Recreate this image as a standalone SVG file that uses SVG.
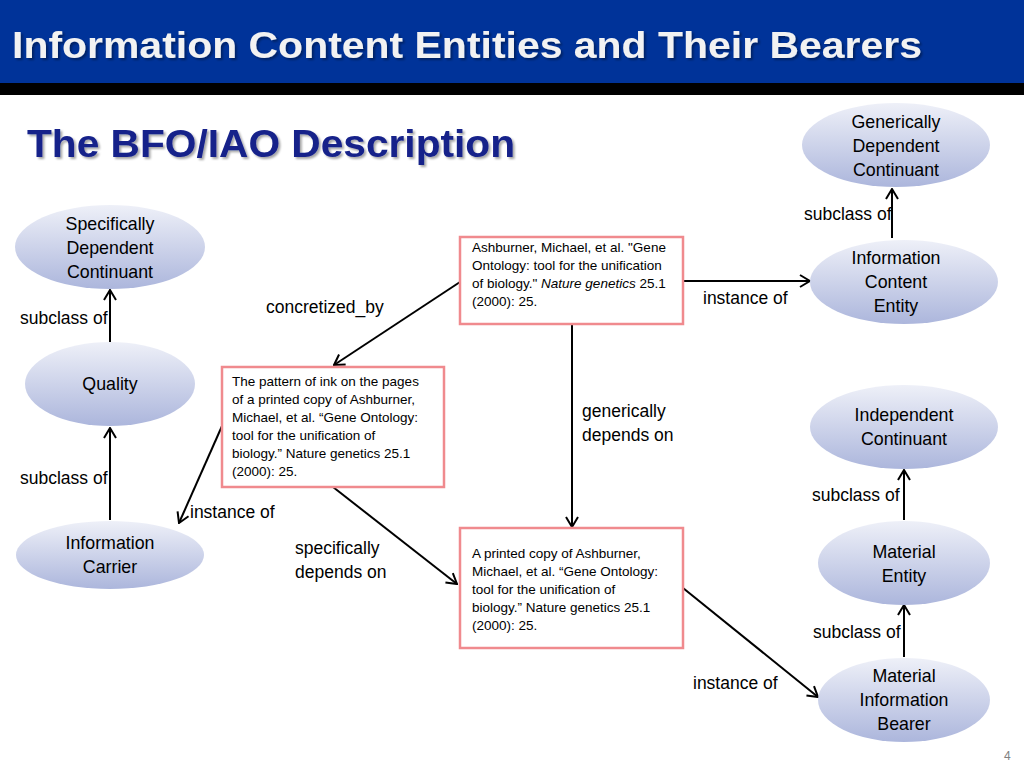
<svg xmlns="http://www.w3.org/2000/svg" width="1024" height="768" viewBox="0 0 1024 768">
<style>
.lbl{font-family:"Liberation Sans",Arial,sans-serif;font-size:17.5px;fill:#000}
.nt{font-family:"Liberation Sans",Arial,sans-serif;font-size:17.8px;fill:#000;text-anchor:middle}
.bt{font-family:"Liberation Sans",Arial,sans-serif;font-size:13.5px;fill:#000}
.ell{fill:url(#eg)}
.box{fill:#fff;stroke:#f08a8e;stroke-width:2.5}
.con{stroke:#000;stroke-width:2;fill:none;marker-end:url(#arr)}
</style>
<defs>
<linearGradient id="eg" x1="0" y1="0" x2="0" y2="1">
<stop offset="0" stop-color="#eef0f8"/>
<stop offset="1" stop-color="#acb6dc"/>
</linearGradient>
<marker id="arr" viewBox="0 0 12 14" refX="11" refY="7" markerWidth="12" markerHeight="14" markerUnits="userSpaceOnUse" orient="auto">
<path d="M1,1 L11,7 L1,13" fill="none" stroke="#000" stroke-width="2"/>
</marker>
<filter id="sh" x="-5%" y="-20%" width="110%" height="150%">
<feDropShadow dx="2" dy="2" stdDeviation="1" flood-color="#000" flood-opacity="0.35"/>
</filter>
</defs>
<rect x="0" y="0" width="1024" height="768" fill="#fff"/>
<rect x="0" y="0" width="1024" height="83" fill="#003399"/>
<rect x="0" y="83" width="1024" height="12" fill="#000"/>
<text x="12" y="58" font-family="'Liberation Sans',Arial,sans-serif" font-weight="bold" font-size="37" fill="#f2f2f2" textLength="910" lengthAdjust="spacingAndGlyphs" filter="url(#sh)">Information Content Entities and Their Bearers</text>
<text x="27" y="157" font-family="'Liberation Sans',Arial,sans-serif" font-weight="bold" font-size="39" fill="#15218a" textLength="488" lengthAdjust="spacingAndGlyphs" filter="url(#sh)">The BFO/IAO Description</text>

<g id="connectors">
<line class="con" x1="892" y1="238" x2="892" y2="189"/>
<line class="con" x1="110" y1="342" x2="110" y2="290"/>
<line class="con" x1="110" y1="520" x2="110" y2="428"/>
<line class="con" x1="683" y1="281" x2="810" y2="281"/>
<line class="con" x1="460" y1="282" x2="334" y2="365"/>
<line class="con" x1="572" y1="324" x2="572" y2="527"/>
<line class="con" x1="222" y1="426" x2="179" y2="523"/>
<line class="con" x1="333" y1="487" x2="457" y2="584"/>
<line class="con" x1="683" y1="588" x2="818" y2="697"/>
<line class="con" x1="904" y1="520" x2="904" y2="470"/>
<line class="con" x1="904" y1="657" x2="904" y2="605"/>
<text class="lbl" x="804" y="220">subclass of</text>
<text class="lbl" x="20" y="324">subclass of</text>
<text class="lbl" x="20" y="484">subclass of</text>
<text class="lbl" x="703" y="304">instance of</text>
<text class="lbl" x="266" y="313">concretized_by</text>
<text class="lbl" x="582" y="417">generically</text>
<text class="lbl" x="582" y="441">depends on</text>
<text class="lbl" x="190" y="518">instance of</text>
<text class="lbl" x="295" y="554">specifically</text>
<text class="lbl" x="295" y="578">depends on</text>
<text class="lbl" x="693" y="689">instance of</text>
<text class="lbl" x="812" y="501">subclass of</text>
<text class="lbl" x="813" y="638">subclass of</text>
</g>

<g id="gdc">
<ellipse class="ell" cx="896" cy="145" rx="94" ry="42"/>
<text class="nt" x="896" y="128">Generically</text>
<text class="nt" x="896" y="152">Dependent</text>
<text class="nt" x="896" y="176">Continuant</text>
</g>
<g id="sdc">
<ellipse class="ell" cx="110" cy="247" rx="95" ry="42"/>
<text class="nt" x="110" y="230">Specifically</text>
<text class="nt" x="110" y="254">Dependent</text>
<text class="nt" x="110" y="278">Continuant</text>
</g>
<g id="quality">
<ellipse class="ell" cx="110" cy="384" rx="85" ry="42"/>
<text class="nt" x="110" y="390">Quality</text>
</g>
<g id="ic">
<ellipse class="ell" cx="110" cy="555" rx="94" ry="34"/>
<text class="nt" x="110" y="549">Information</text>
<text class="nt" x="110" y="573">Carrier</text>
</g>
<g id="ice">
<ellipse class="ell" cx="904" cy="282" rx="94" ry="42"/>
<text class="nt" x="896" y="264">Information</text>
<text class="nt" x="896" y="288">Content</text>
<text class="nt" x="896" y="312">Entity</text>
</g>
<g id="indc">
<ellipse class="ell" cx="904" cy="427" rx="94" ry="42"/>
<text class="nt" x="904" y="421">Independent</text>
<text class="nt" x="904" y="445">Continuant</text>
</g>
<g id="me">
<ellipse class="ell" cx="904" cy="563" rx="86" ry="42"/>
<text class="nt" x="904" y="558">Material</text>
<text class="nt" x="904" y="582">Entity</text>
</g>
<g id="mib">
<ellipse class="ell" cx="904" cy="700" rx="86" ry="42"/>
<text class="nt" x="904" y="682">Material</text>
<text class="nt" x="904" y="706">Information</text>
<text class="nt" x="904" y="730">Bearer</text>
</g>

<g id="boxA">
<rect class="box" x="460" y="237" width="223" height="87"/>
<text class="bt" x="472" y="252">Ashburner, Michael, et al. "Gene</text>
<text class="bt" x="472" y="270">Ontology: tool for the unification</text>
<text class="bt" x="472" y="288">of biology." <tspan font-style="italic">Nature genetics</tspan> 25.1</text>
<text class="bt" x="472" y="306">(2000): 25.</text>
</g>
<g id="boxB">
<rect class="box" x="222" y="367" width="222" height="120"/>
<text class="bt" x="232" y="386">The pattern of ink on the pages</text>
<text class="bt" x="232" y="404">of a printed copy of Ashburner,</text>
<text class="bt" x="232" y="422">Michael, et al. “Gene Ontology:</text>
<text class="bt" x="232" y="440">tool for the unification of</text>
<text class="bt" x="232" y="458">biology.” Nature genetics 25.1</text>
<text class="bt" x="232" y="476">(2000): 25.</text>
</g>
<g id="boxC">
<rect class="box" x="460" y="528" width="223" height="120"/>
<text class="bt" x="472" y="558">A printed copy of Ashburner,</text>
<text class="bt" x="472" y="576">Michael, et al. “Gene Ontology:</text>
<text class="bt" x="472" y="594">tool for the unification of</text>
<text class="bt" x="472" y="612">biology.” Nature genetics 25.1</text>
<text class="bt" x="472" y="630">(2000): 25.</text>
</g>
<text x="1004" y="760" font-family="'Liberation Sans',Arial,sans-serif" font-size="12" fill="#808080">4</text>
</svg>
